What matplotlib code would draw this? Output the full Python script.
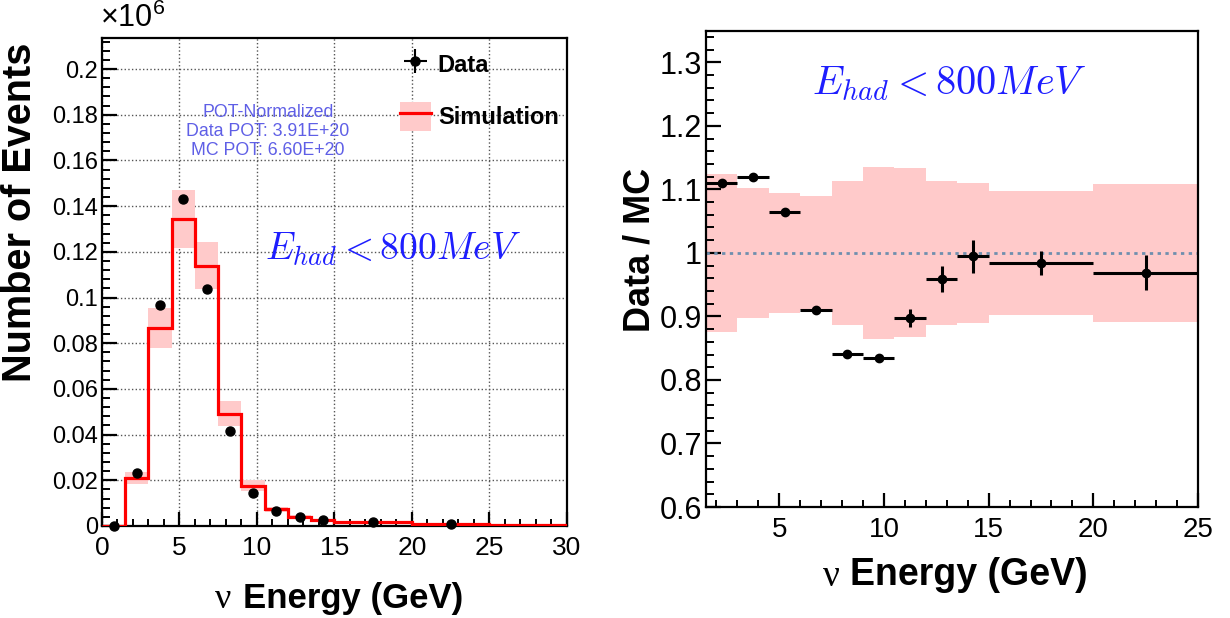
import matplotlib
matplotlib.use("Agg")
import matplotlib.pyplot as plt
from matplotlib.patches import Patch
from matplotlib.lines import Line2D
from matplotlib.ticker import MultipleLocator

plt.rcParams['font.family'] = ['Liberation Sans', 'DejaVu Sans']

# bin edges (GeV)
edges = [0, 1.5, 3, 4.5, 6, 7.5, 9, 10.5, 12, 13.5, 15, 20, 25, 30]
# simulation (x10^6 events), per bin
sim = [0.0, 0.0210, 0.0866, 0.1345, 0.1140, 0.0492, 0.0176, 0.0073, 0.0041, 0.0026, 0.0016, 0.0009, 0.0005]
sim_err = [0.0, 0.0026, 0.0089, 0.0127, 0.0102, 0.0056, 0.0024, 0.0010, 0.0005, 0.0003, 0.0002, 0.0001, 0.00005]
# data points (x10^6 events)
data_x = [0.75, 2.25, 3.75, 5.25, 6.75, 8.25, 9.75, 11.25, 12.75, 14.25, 17.5, 22.5]
data_y = [0.0, 0.0232, 0.0968, 0.1430, 0.1037, 0.0415, 0.0146, 0.0066, 0.0039, 0.0026, 0.0016, 0.0008]

# ratio panel
r_edges = [1.5, 3, 4.5, 6, 7.5, 9, 10.5, 12, 13.5, 15, 20, 25]
ratio = [1.110, 1.119, 1.065, 0.910, 0.841, 0.835, 0.898, 0.959, 0.995, 0.984, 0.969]
ratio_err = [0.007, 0.004, 0.003, 0.004, 0.004, 0.006, 0.014, 0.020, 0.026, 0.019, 0.027]
band_err = [0.124, 0.102, 0.095, 0.090, 0.113, 0.135, 0.133, 0.113, 0.110, 0.098, 0.109]

pink = '#ffcaca'
fig = plt.figure(figsize=(12.3, 6.18), dpi=100)
ax1 = fig.add_axes([0.0829, 0.1489, 0.378, 0.7896])
ax2 = fig.add_axes([0.574, 0.1796, 0.40, 0.770])

# ---- left panel
widths = [edges[i + 1] - edges[i] for i in range(len(sim))]
ax1.bar(edges[:-1], [2 * e for e in sim_err], bottom=[s - e for s, e in zip(sim, sim_err)],
        width=widths, align='edge', color=pink, lw=0, zorder=2)
ax1.stairs(sim, edges, color='red', lw=2.3, zorder=3)
eb = ax1.errorbar(data_x, data_y, yerr=[0] * len(data_x), xerr=[0] * len(data_x), fmt='o',
                  color='black', ms=6.5, lw=1.5, zorder=4, clip_on=False)
ax1.set_xlim(0, 30)
ax1.set_ylim(0, 0.2136)
ax1.xaxis.set_major_locator(MultipleLocator(5))
ax1.xaxis.set_minor_locator(MultipleLocator(1))
ax1.set_yticks([0, 0.02, 0.04, 0.06, 0.08, 0.1, 0.12, 0.14, 0.16, 0.18, 0.2],
               ['0', '0.02', '0.04', '0.06', '0.08', '0.1', '0.12', '0.14', '0.16', '0.18', '0.2'])
ax1.yaxis.set_minor_locator(MultipleLocator(0.004))
ax1.grid(True, which='major', ls=':', color='#555555', lw=1.0, zorder=0)
ax1.set_axisbelow(True)
ax1.tick_params(axis='y', which='major', direction='in', length=11, width=1.6, labelsize=17, pad=3)
ax1.tick_params(axis='y', which='minor', direction='in', length=6, width=1.4)
ax1.tick_params(axis='x', which='major', direction='in', length=10, width=1.6, labelsize=19, pad=7)
ax1.tick_params(axis='x', which='minor', direction='in', length=5, width=1.4)
for sp in ax1.spines.values():
    sp.set_linewidth(1.6)

ax1.text(-0.005, 1.008, r'$\mathregular{\times10^{6}}$', transform=ax1.transAxes, fontsize=22,
         ha='left', va='bottom')
ax1.set_ylabel('Number of Events', fontsize=28.5, fontweight='bold')
ax1.yaxis.set_label_coords(-0.135, 0.643)
ax1.set_xlabel('Energy (GeV)', fontsize=25, fontweight='bold')
ax1.xaxis.set_label_coords(0.54, -0.115)
ax1.annotate('ν', xy=(0, 0.2), xycoords=ax1.xaxis.label, xytext=(-8, 0),
             textcoords='offset points', ha='right', va='baseline', fontsize=26,
             family='Liberation Serif')

ax1.text(10.7, 0.1725, 'POT-Normalized\nData POT: 3.91E+20\nMC POT: 6.60E+20', color='#5f5fe6',
         fontsize=12.8, ha='center', va='center', linespacing=1.15)
ax1.text(18.8, 0.121, r'$E_{had} < 800MeV$', math_fontfamily='cm', color='#1e1eff',
         fontsize=27, ha='center', va='center')

sim_handle = (Patch(facecolor=pink, edgecolor='none'), Line2D([], [], color='red', lw=2.3))
leg = ax1.legend([eb, sim_handle], ['Data', 'Simulation'], loc='upper left',
                 bbox_to_anchor=(0.641, 0.976), frameon=False, borderpad=0, borderaxespad=0,
                 handlelength=1.3, handleheight=1.55, handletextpad=0.3, labelspacing=0.95,
                 prop={'weight': 'bold', 'size': 17})

# ---- right panel
r_widths = [r_edges[i + 1] - r_edges[i] for i in range(len(ratio))]
r_centers = [r_edges[i] + w / 2 for i, w in enumerate(r_widths)]
ax2.bar(r_edges[:-1], [2 * e for e in band_err], bottom=[1 - e for e in band_err],
        width=r_widths, align='edge', color=pink, lw=0, zorder=1)
ax2.axhline(1.0, color='#6f8fae', ls=(0, (1.2, 1.6)), lw=2.0, zorder=2)
ax2.errorbar(r_centers, ratio, yerr=ratio_err, xerr=[w / 2 for w in r_widths], fmt='o',
             color='black', ms=6, lw=2.2, zorder=3)
ax2.set_xlim(1.5, 25)
ax2.set_ylim(0.6, 1.349)
ax2.xaxis.set_major_locator(MultipleLocator(5))
ax2.xaxis.set_minor_locator(MultipleLocator(1))
ax2.set_yticks([0.6, 0.7, 0.8, 0.9, 1.0, 1.1, 1.2, 1.3],
               ['0.6', '0.7', '0.8', '0.9', '1', '1.1', '1.2', '1.3'])
ax2.yaxis.set_minor_locator(MultipleLocator(0.02))
ax2.tick_params(axis='y', which='major', direction='in', length=11, width=1.6, labelsize=22, pad=3)
ax2.tick_params(axis='y', which='minor', direction='in', length=6, width=1.4)
ax2.tick_params(axis='x', which='major', direction='in', length=10, width=1.6, labelsize=20, pad=7)
ax2.tick_params(axis='x', which='minor', direction='in', length=5, width=1.4)
for sp in ax2.spines.values():
    sp.set_linewidth(1.6)

ax2.set_ylabel('Data / MC', fontsize=26, fontweight='bold')
ax2.yaxis.set_label_coords(-0.098, 0.54)
ax2.set_xlabel('Energy (GeV)', fontsize=27, fontweight='bold')
ax2.xaxis.set_label_coords(0.535, -0.105)
ax2.annotate('ν', xy=(0, 0.2), xycoords=ax2.xaxis.label, xytext=(-8, 0),
             textcoords='offset points', ha='right', va='baseline', fontsize=27,
             family='Liberation Serif')
ax2.text(13.1, 1.266, r'$E_{had} < 800MeV$', math_fontfamily='cm', color='#1e1eff',
         fontsize=29, ha='center', va='center')

fig.savefig('out.png', dpi=100)
